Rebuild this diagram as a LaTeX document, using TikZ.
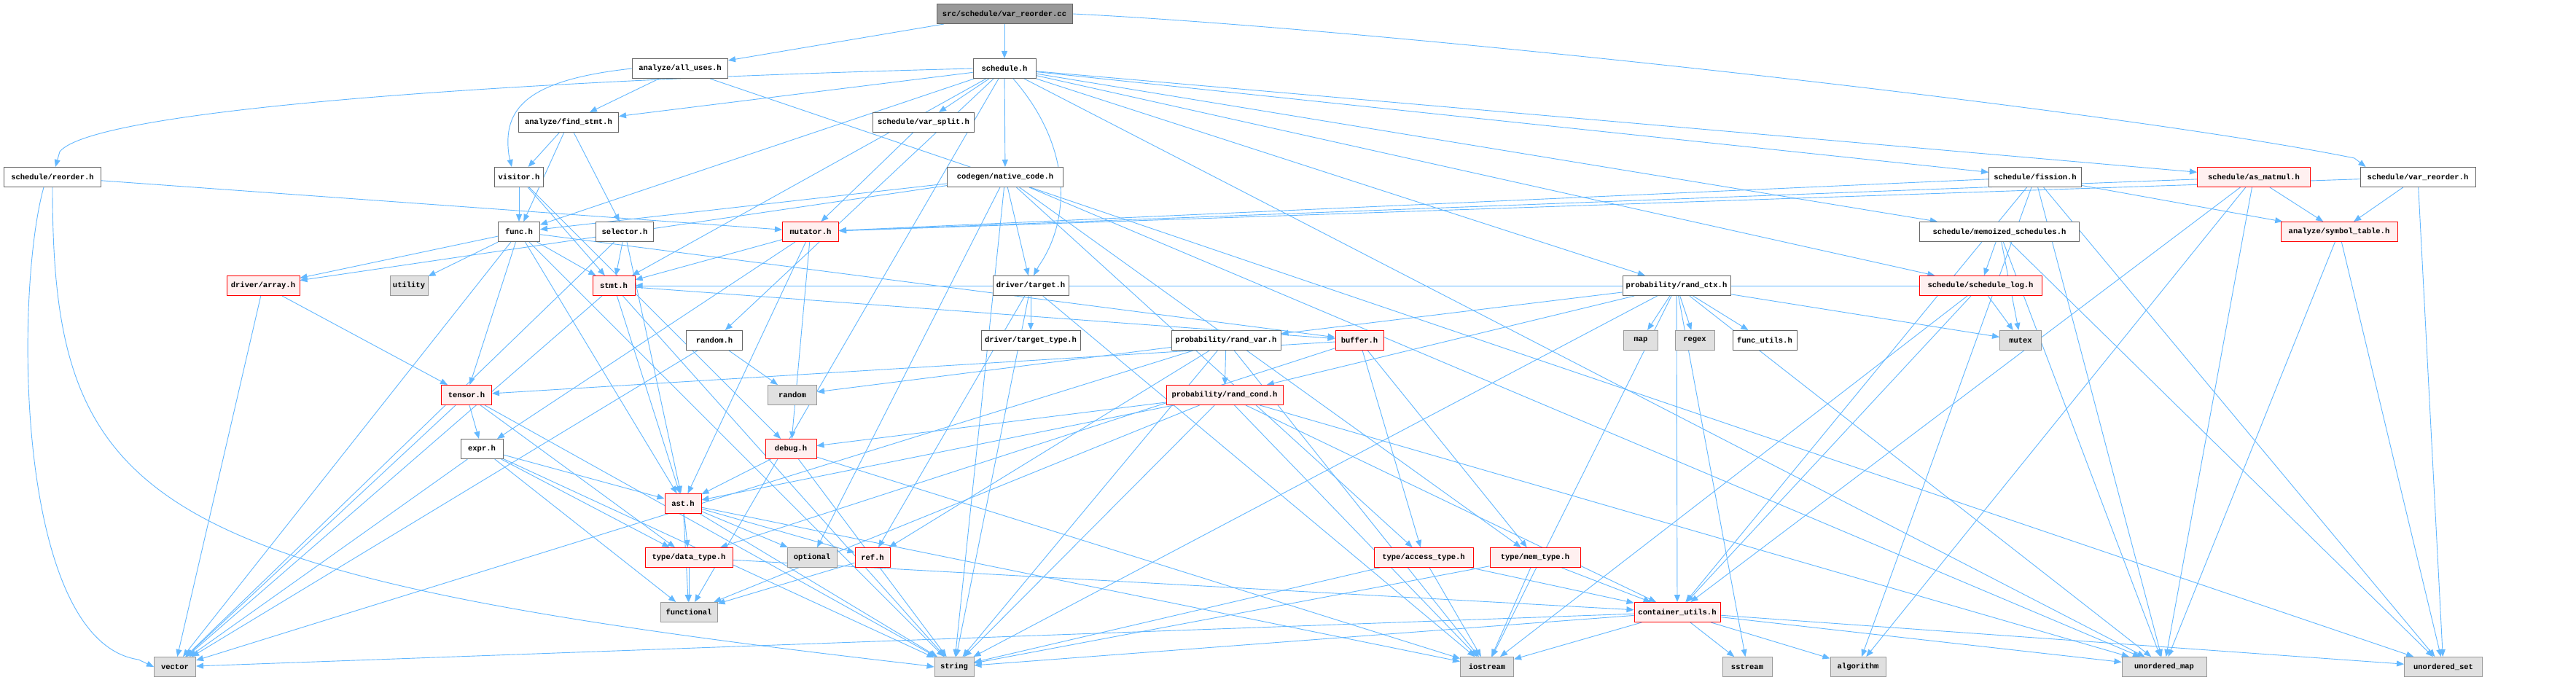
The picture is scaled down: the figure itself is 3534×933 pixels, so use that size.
\documentclass[tikz,border=0pt]{standalone}
\usepackage{fontspec}
\newfontfamily\dfont{Liberation Mono}
\usetikzlibrary{arrows.meta,backgrounds}
\definecolor{edgec}{HTML}{63B8FF}
\definecolor{redb}{HTML}{FF0000}
\definecolor{redf}{HTML}{FFF0F0}
\definecolor{grayf}{HTML}{E0E0E0}
\definecolor{grayb}{HTML}{999999}
\definecolor{darkb}{HTML}{666666}
\tikzset{
  box/.style={draw, minimum height=27pt, inner sep=1pt, line width=1pt,
    font=\dfont\bfseries\fontsize{10.5}{12}\selectfont},
  wn/.style={box, draw=darkb, fill=white},
  rn/.style={box, draw=redb, fill=redf},
  gn/.style={box, draw=grayb, fill=grayf},
  rootn/.style={box, draw=darkb, fill=grayb},
  edge/.style={draw=edgec, line width=0.9pt, -{Triangle[length=10pt,width=8pt]}}
}
\begin{document}
\begin{tikzpicture}[x=1pt,y=-1pt]
\useasboundingbox (0,0) rectangle (3534,933);
% row 1
\node[rootn, minimum width=186pt] (root) at (1378,19) {src/schedule/var\_reorder.cc};
% row 2
\node[wn, minimum width=131pt] (allu) at (933,94) {analyze/all\_uses.h};
\node[wn, minimum width=86pt] (sched) at (1378,94) {schedule.h};
% row 3
\node[wn, minimum width=137pt] (findstmt) at (780,168) {analyze/find\_stmt.h};
\node[wn, minimum width=139pt] (varsplit) at (1267,168) {schedule/var\_split.h};
% row 4
\node[wn, minimum width=133pt] (reorder) at (72,243) {schedule/reorder.h};
\node[wn, minimum width=67pt] (visitor) at (712,243) {visitor.h};
\node[wn, minimum width=159pt] (native) at (1379,243) {codegen/native\_code.h};
\node[wn, minimum width=127pt] (fission) at (2792,243) {schedule/fission.h};
\node[rn, minimum width=155pt] (asmatmul) at (3092,243) {schedule/as\_matmul.h};
\node[wn, minimum width=158pt] (varreord) at (3317,243) {schedule/var\_reorder.h};
% row 5
\node[wn, minimum width=57pt] (func) at (712,318) {func.h};
\node[wn, minimum width=79pt] (selector) at (857,318) {selector.h};
\node[rn, minimum width=77pt] (mutator) at (1112,318) {mutator.h};
\node[wn, minimum width=219pt] (memo) at (2743,318) {schedule/memoized\_schedules.h};
\node[rn, minimum width=160pt] (symtab) at (3209,318) {analyze/symbol\_table.h};
% row 6
\node[rn, minimum width=100pt] (array) at (361,392) {driver/array.h};
\node[gn, minimum width=52pt] (utility) at (561,392) {utility};
\node[rn, minimum width=58pt] (stmt) at (842,392) {stmt.h};
\node[wn, minimum width=104pt] (target) at (1414,392) {driver/target.h};
\node[wn, minimum width=148pt] (randctx) at (2300,392) {probability/rand\_ctx.h};
\node[rn, minimum width=168pt] (schedlog) at (2717,392) {schedule/schedule\_log.h};
% row 7
\node[wn, minimum width=77pt] (randomh) at (980,467) {random.h};
\node[wn, minimum width=136pt] (targettype) at (1414,467) {driver/target\_type.h};
\node[wn, minimum width=150pt] (randvar) at (1682,467) {probability/rand\_var.h};
\node[rn, minimum width=66pt] (buffer) at (1865,467) {buffer.h};
\node[gn, minimum width=47pt] (map) at (2251,467) {map};
\node[gn, minimum width=54pt] (regex) at (2325,467) {regex};
\node[wn, minimum width=88pt] (funcutils) at (2421,467) {func\_utils.h};
\node[gn, minimum width=57pt] (mutex) at (2772,467) {mutex};
% row 8
\node[rn, minimum width=69pt] (tensor) at (640,542) {tensor.h};
\node[gn, minimum width=67pt] (random) at (1087,542) {random};
\node[rn, minimum width=160pt] (randcond) at (1680,542) {probability/rand\_cond.h};
% row 9
\node[wn, minimum width=58pt] (expr) at (661,616) {expr.h};
\node[rn, minimum width=70pt] (debug) at (1085,616) {debug.h};
% row 10
\node[rn, minimum width=50pt] (ast) at (937,691) {ast.h};
% row 11
\node[rn, minimum width=120pt] (datatype) at (945,765) {type/data\_type.h};
\node[gn, minimum width=68pt] (optional) at (1114,765) {optional};
\node[rn, minimum width=48pt] (ref) at (1197,765) {ref.h};
\node[rn, minimum width=136pt] (accesstype) at (1953,765) {type/access\_type.h};
\node[rn, minimum width=124pt] (memtype) at (2106,765) {type/mem\_type.h};
% row 12
\node[gn, minimum width=78pt] (functional) at (945,840) {functional};
\node[rn, minimum width=118pt] (container) at (2301,840) {container\_utils.h};
% row 13
\node[gn, minimum width=57pt] (vector) at (240,915) {vector};
\node[gn, minimum width=54pt] (string) at (1309,915) {string};
\node[gn, minimum width=73pt] (iostream) at (2040,915) {iostream};
\node[gn, minimum width=68pt] (sstream) at (2397,915) {sstream};
\node[gn, minimum width=76pt] (algorithm) at (2549,915) {algorithm};
\node[gn, minimum width=116pt] (umap) at (2969,915) {unordered\_map};
\node[gn, minimum width=107pt] (uset) at (3352,915) {unordered\_set};

\begin{scope}[on background layer]
\fill[white] (0,0) rectangle (3534,933);
% straight connectors
\foreach \a/\b in {
  root/allu, root/sched,
  allu/findstmt, allu/uset,
  sched/findstmt, sched/varsplit, sched/native,
  sched/func, sched/stmt, sched/randomh, sched/randctx, sched/fission,
  sched/memo, sched/schedlog, sched/asmatmul, sched/umap, sched/functional,
  findstmt/visitor, findstmt/func, findstmt/selector,
  varsplit/mutator,
  reorder/mutator,
  visitor/func, visitor/stmt, visitor/debug,
  native/func, native/array, native/target, native/string, native/optional,
  native/accesstype, native/memtype, native/umap,
  fission/mutator, fission/symtab, fission/container, fission/uset,
  fission/umap, fission/algorithm,
  asmatmul/mutator, asmatmul/symtab, asmatmul/container, asmatmul/algorithm,
  asmatmul/umap,
  varreord/mutator, varreord/symtab, varreord/uset,
  memo/schedlog, memo/mutex, memo/umap, memo/uset,
  schedlog/mutex, schedlog/stmt, schedlog/container, schedlog/iostream,
  func/array, func/utility, func/stmt, func/tensor, func/vector, func/string,
  func/buffer, func/ast,
  selector/stmt, selector/ast, selector/vector,
  mutator/stmt, mutator/debug, mutator/ast, mutator/expr,
  stmt/buffer, stmt/ast, stmt/vector, stmt/string,
  array/tensor, array/vector,
  target/targettype, target/ref, target/string, target/iostream,
  randctx/randvar, randctx/randcond, randctx/map, randctx/regex,
  randctx/funcutils, randctx/mutex, randctx/container, randctx/iostream,
  randctx/umap, randctx/string, randctx/sstream,
  randvar/randcond, randvar/random, randvar/ref, randvar/iostream,
  randvar/string, randvar/vector,
  randcond/debug, randcond/ast, randcond/string, randcond/iostream,
  randcond/functional, randcond/umap, randcond/container,
  buffer/tensor, buffer/accesstype, buffer/memtype, buffer/datatype,
  randomh/random, randomh/vector,
  tensor/expr, tensor/datatype, tensor/vector, tensor/string,
  expr/ast, expr/datatype, expr/vector, expr/string, expr/functional,
  debug/ast, debug/string, debug/iostream,
  ast/datatype, ast/optional, ast/ref, ast/functional, ast/string, ast/iostream,
  datatype/functional, datatype/container,
  ref/functional,
  accesstype/container, accesstype/iostream, accesstype/string,
  memtype/container, memtype/iostream, memtype/string,
  container/iostream, container/sstream, container/algorithm, container/umap,
  container/uset, container/vector, container/string,
  symtab/umap, symtab/uset}
  \draw[edge] (\a) -- (\b);
% curved connectors, routed like the reference splines
\draw[edge] (root.east) .. controls (1900,40) and (2900,150) .. (3230,217)
  -- ([xshift=8pt]varreord.north west);
\draw[edge] (sched.west) .. controls (700,110) and (130,150) .. (82,208)
  -- ([xshift=4pt]reorder.north);
\draw[edge] ([xshift=12pt]sched.south) .. controls (1470,200) and (1470,300) .. (1425,365)
  -- ([xshift=4pt]target.north);
\draw[edge] (allu.west) .. controls (720,110) and (690,150) .. (698,212)
  -- ([xshift=-10pt]visitor.north);
\draw[edge] ([xshift=-12pt]reorder.south) .. controls (20,400) and (20,880) .. (190,905)
  -- (vector.west);
\draw[edge] (reorder.south) .. controls (72,700) and (200,790) .. (1260,912)
  -- (string.west);
\end{scope}
\end{tikzpicture}
\end{document}
